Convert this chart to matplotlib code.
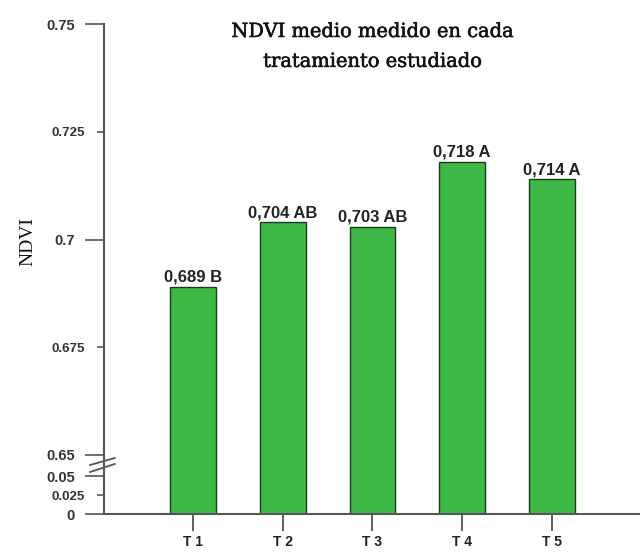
import numpy as np
import matplotlib
matplotlib.use("Agg")
import matplotlib.pyplot as plt
import matplotlib.patheffects as pe
from matplotlib.scale import FuncScale
from matplotlib.transforms import blended_transform_factory

# ---- data ----
categories = ["T 1", "T 2", "T 3", "T 4", "T 5"]
ndvi = [0.689, 0.704, 0.703, 0.718, 0.714]
groups = ["B", "AB", "AB", "A", "A"]
major_ticks = [0, 0.05, 0.65, 0.7, 0.75]
major_labels = ["0", "0.05", "0.65", "0.7", "0.75"]
minor_ticks = [0.025, 0.675, 0.725]
minor_labels = ["0.025", "0.675", "0.725"]
title = "NDVI medio medido en cada\ntratamiento estudiado"
ylabel = "NDVI"

# broken-axis scale (piecewise linear)
_ys = [0.0, 0.05, 0.65, 0.75]
_ps = [0.0, 38.0, 59.0, 490.0]
def fwd(y):
    return np.interp(y, _ys, _ps)
def inv(p):
    return np.interp(p, _ps, _ys)

fig = plt.figure(figsize=(6.4, 5.56), dpi=100)
ax = fig.add_axes([104/640, 1-514/556, 1-104/640, (514-24)/556])
ax.set_yscale(FuncScale(ax, (fwd, inv)))

x = np.arange(len(categories))
ax.bar(x, ndvi, width=0.51, color="#3dba45", edgecolor="#1e3a1e", linewidth=1.0, zorder=2)
for xi, v, g in zip(x, ndvi, groups):
    ax.annotate(f"{v:.3f}".replace(".", ",") + f" {g}", (xi, v), xytext=(0, 1.5),
                textcoords="offset points", ha="center", va="bottom",
                fontsize=12, fontweight="bold", family="Liberation Sans", color="#222222")

ax.set_xlim(-0.99, 4.98)
ax.set_ylim(0, 0.75)

ax.set_yticks(major_ticks)
ax.set_yticklabels(major_labels)
ax.set_yticks(minor_ticks, minor=True)
ax.set_yticklabels(minor_labels, minor=True)
ax.tick_params(axis="y", which="major", length=14, width=1.2, color="#555555", pad=7,
               labelsize=10.5)
ax.tick_params(axis="y", which="minor", length=5, width=1.2, color="#555555", pad=9,
               labelsize=9.5)
for lab in ax.get_yticklabels() + ax.get_yticklabels(minor=True):
    lab.set_fontweight("bold")
    lab.set_family("Liberation Sans")
    lab.set_color("#333333")

ax.set_xticks(x)
ax.set_xticklabels(categories)
ax.tick_params(axis="x", length=12, width=1.2, color="#444444", pad=3, labelsize=10)
for lab in ax.get_xticklabels():
    lab.set_fontweight("bold")
    lab.set_family("Liberation Sans")
    lab.set_color("#222222")

for s in ["top", "right"]:
    ax.spines[s].set_visible(False)
for s in ["left", "bottom"]:
    ax.spines[s].set_color("#555555")
    ax.spines[s].set_linewidth(1.5)

# axis break marks
tr = blended_transform_factory(ax.transAxes, ax.transData)
for y0, y1 in [(0.364, 0.564), (0.164, 0.393)]:
    ax.plot([-0.026, 0.02], [y0, y1], color="#555555", lw=1.3, transform=tr, clip_on=False)

fig.text(373/640, 1-23/556, title, ha="center", va="top", fontsize=14,
         family="DejaVu Serif", linespacing=1.85, color="#111111",
         path_effects=[pe.withStroke(linewidth=0.4, foreground="#111111")])
fig.text(28/640, 1-242/556, ylabel, ha="center", va="center", rotation=90,
         fontsize=14, family="Liberation Serif", color="#111111")

fig.savefig("out.png", dpi=100)
